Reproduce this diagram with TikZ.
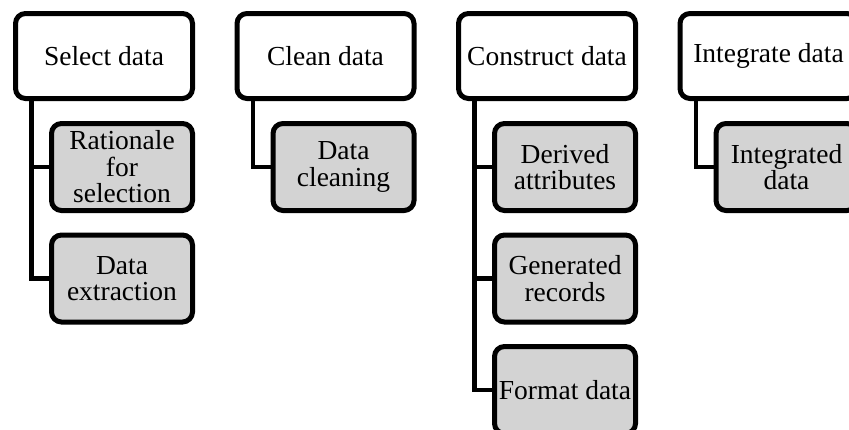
\documentclass[tikz,border=0pt]{standalone}
\usepackage{fontspec}
\setmainfont{Liberation Serif}
\definecolor{childgray}{RGB}{211,211,211}
\begin{document}
\begin{tikzpicture}[x=1pt,y=-1pt,
  topbox/.style={draw=black,line width=5pt,rounded corners=10pt,fill=white,
    minimum width=177pt,minimum height=85pt,inner sep=0pt,align=center,
    font=\fontsize{27.5}{26.5}\selectfont},
  childbox/.style={draw=black,line width=5pt,rounded corners=10pt,fill=childgray,
    minimum width=141pt,minimum height=87pt,inner sep=0pt,align=center,
    font=\fontsize{27.5}{26.5}\selectfont},
  conn/.style={draw=black,line width=4.5pt}]
\useasboundingbox (0,0) rectangle (849,429);
\begin{scope}
\clip (0,0) rectangle (849,429);
% parent boxes
\node[topbox] (p1) at (104,56) {Select data};
\node[topbox] (p2) at (325.5,56) {Clean data};
\node[topbox] (p3) at (547,56) {Construct data};
\node[topbox] (p4) at (768.5,56) {Integrate data};
% connector start points below the parents
\coordinate (v1) at ([xshift=18.5pt]p1.south west);
\coordinate (v2) at ([xshift=18.5pt]p2.south west);
\coordinate (v3) at ([xshift=18.5pt]p3.south west);
\coordinate (v4) at ([xshift=18.5pt]p4.south west);
% child boxes
\node[childbox] (c11) at (122,167) {Rationale\\for\\selection};
\node[childbox] (c12) at (122,278.5) {Data\\extraction};
\node[childbox] (c21) at (343.5,167) {Data\\cleaning};
\node[childbox] (c31) at (565,167) {Derived\\attributes};
\node[childbox] (c32) at (565,278.5) {Generated\\records};
\node[childbox] (c33) at (565,390) {Format data};
\node[childbox] (c41) at (786.5,167) {Integrated\\data};
% connectors
\path[conn] (v1) |- (c11.west);
\path[conn] (v1) |- (c12.west);
\path[conn] (v2) |- (c21.west);
\path[conn] (v3) |- (c31.west);
\path[conn] (v3) |- (c32.west);
\path[conn] (v3) |- (c33.west);
\path[conn] (v4) |- (c41.west);
\end{scope}
\end{tikzpicture}
\end{document}
